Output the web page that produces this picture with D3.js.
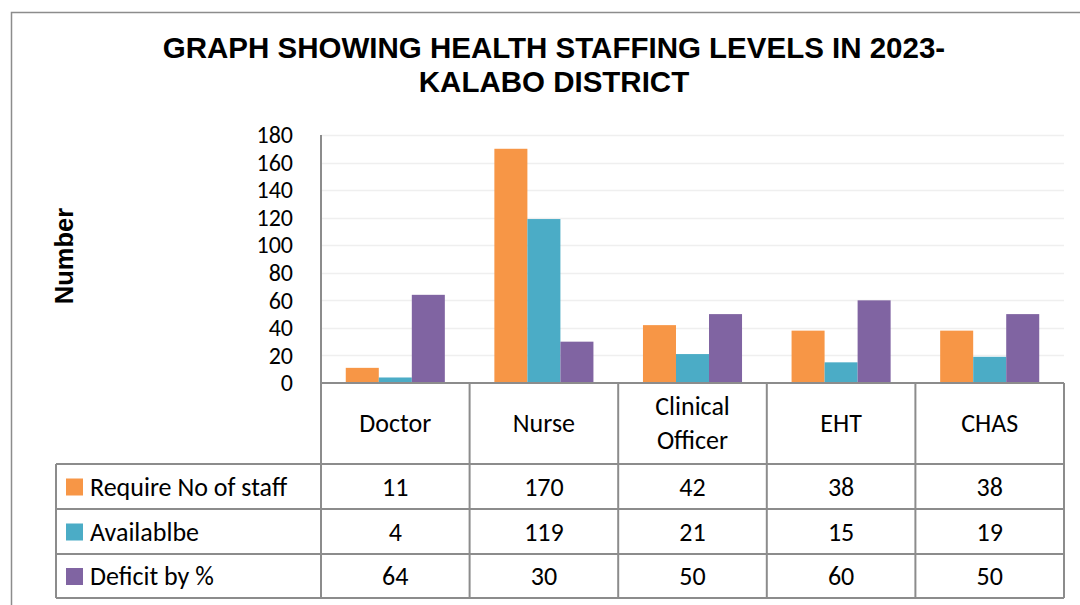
<!DOCTYPE html>
<html>
<head>
<meta charset="utf-8">
<script src="https://cdn.jsdelivr.net/npm/d3@7"></script>
<style>
  html, body { margin: 0; padding: 0; background: #fff; }
  svg { display: block; }
</style>
</head>
<body>
<svg id="chart" width="1080" height="605"></svg>
<script>
// Staffing data.
var categories = ['Doctor', 'Nurse', 'Clinical Officer', 'EHT', 'CHAS'];
var categoryLines = [['Doctor'], ['Nurse'], ['Clinical', 'Officer'], ['EHT'], ['CHAS']];
var seriesNames = ['Require No of staff', 'Availablbe', 'Deficit by %'];
var required = [11, 170, 42, 38, 38];
var available = [4, 119, 21, 15, 19];
var deficit = [64, 30, 50, 60, 50];
var yTicks = [0, 20, 40, 60, 80, 100, 120, 140, 160, 180];
var colors = ['#F79646', '#4BACC6', '#8064A2'];

var seriesValues = [required, available, deficit];

var svg = d3.select('#chart');
var font = 'Carlito, Lato, "Liberation Sans", sans-serif';
var arial = '"Liberation Sans", Arial, sans-serif';
var lineColor = '#8c8c8c';

// Plot area and table geometry.
var plotLeft = 321, plotRight = 1064;
var plotTop = 135, plotBottom = 383;
var catRowBottom = 464;
var rowEdges = [464, 509, 554, 598];
var legendLeft = 56;

// Outer chart border (runs off the bottom and right of the picture).
svg.append('path')
  .attr('d', 'M11.5,605 L11.5,12.5 L1080,12.5')
  .attr('fill', 'none')
  .attr('stroke', lineColor)
  .attr('stroke-width', 1.5);

// Title.
var title = svg.append('text')
  .attr('text-anchor', 'middle')
  .attr('font-family', arial)
  .attr('font-weight', 'bold')
  .attr('font-size', 29.5)
  .attr('fill', '#000');
title.append('tspan').attr('x', 554).attr('y', 58).text('GRAPH SHOWING HEALTH STAFFING LEVELS IN 2023-');
title.append('tspan').attr('x', 554).attr('y', 92).text('KALABO DISTRICT');

// Y axis title.
svg.append('text')
  .attr('transform', 'translate(73,256) rotate(-90)')
  .attr('text-anchor', 'middle')
  .attr('font-family', arial)
  .attr('font-weight', 'bold')
  .attr('font-size', 25.5)
  .text('Number');

// Scales.
var x0 = d3.scaleBand()
  .domain(categories)
  .range([plotLeft, plotRight])
  .padding(0);

var barW = x0.bandwidth() / 4.5;
var x1 = d3.scaleBand()
  .domain(seriesNames)
  .range([barW * 0.75, barW * 3.75])
  .padding(0);

var y = d3.scaleLinear()
  .domain([0, 180])
  .range([plotBottom, plotTop]);

// Gridlines.
svg.append('g')
  .selectAll('line')
  .data(yTicks.slice(1))
  .enter().append('line')
    .attr('x1', plotLeft)
    .attr('x2', plotRight)
    .attr('y1', function(d) { return Math.round(y(d)) + 0.5; })
    .attr('y2', function(d) { return Math.round(y(d)) + 0.5; })
    .attr('stroke', '#efefef')
    .attr('stroke-width', 1.5);

// Y axis tick labels.
var yAxis = svg.append('g')
  .attr('transform', 'translate(' + plotLeft + ',0)')
  .call(d3.axisLeft(y).tickValues(yTicks).tickSize(0).tickPadding(28));
yAxis.select('.domain').remove();
yAxis.selectAll('text')
  .attr('font-family', font)
  .attr('font-size', 24)
  .attr('fill', '#000');

// Bars.
var groups = svg.append('g')
  .selectAll('g')
  .data(categories)
  .enter().append('g')
    .attr('transform', function(d) { return 'translate(' + x0(d) + ',0)'; });

groups.selectAll('rect')
  .data(function(d, i) {
    return seriesNames.map(function(s, j) {
      return { series: s, value: seriesValues[j][i], color: colors[j] };
    });
  })
  .enter().append('rect')
    .attr('x', function(d) { return x1(d.series); })
    .attr('width', x1.bandwidth())
    .attr('y', function(d) { return y(d.value); })
    .attr('height', function(d) { return y(0) - y(d.value); })
    .attr('fill', function(d) { return d.color; });

// Data table lines.
var tbl = svg.append('g')
  .attr('stroke', lineColor)
  .attr('stroke-width', 2)
  .attr('fill', 'none');

// Vertical axis line runs through the table.
tbl.append('line')
  .attr('x1', plotLeft).attr('x2', plotLeft)
  .attr('y1', plotTop).attr('y2', rowEdges[3]);
// Category boundaries.
tbl.selectAll('.vsep')
  .data(categories)
  .enter().append('line')
    .attr('class', 'vsep')
    .attr('x1', function(d) { return x0(d) + x0.bandwidth(); })
    .attr('x2', function(d) { return x0(d) + x0.bandwidth(); })
    .attr('y1', plotBottom)
    .attr('y2', rowEdges[3]);
// Horizontal axis line and row lines.
tbl.append('line')
  .attr('x1', plotLeft).attr('x2', plotRight)
  .attr('y1', plotBottom).attr('y2', plotBottom);
tbl.selectAll('.hrow')
  .data(rowEdges)
  .enter().append('line')
    .attr('class', 'hrow')
    .attr('x1', legendLeft).attr('x2', plotRight)
    .attr('y1', function(d) { return d; })
    .attr('y2', function(d) { return d; });
tbl.append('line')
  .attr('x1', legendLeft).attr('x2', legendLeft)
  .attr('y1', rowEdges[0]).attr('y2', rowEdges[3]);

// Category labels.
var catLabels = svg.append('g')
  .selectAll('text')
  .data(categories)
  .enter().append('text')
    .attr('text-anchor', 'middle')
    .attr('font-family', font)
    .attr('font-size', 26)
    .attr('fill', '#000');
catLabels.each(function(d, i) {
  var lines = categoryLines[i];
  var cx = x0(d) + x0.bandwidth() / 2;
  var mid = (plotBottom + catRowBottom) / 2 - 1;
  var lh = 34;
  var t = d3.select(this);
  lines.forEach(function(l, k) {
    t.append('tspan')
      .attr('x', cx)
      .attr('y', mid + (k - (lines.length - 1) / 2) * lh)
      .attr('dy', '0.35em')
      .text(l);
  });
});

// Table rows: legend key, series name, values.
seriesNames.forEach(function(s, j) {
  var cy = (rowEdges[j] + rowEdges[j + 1]) / 2;
  svg.append('rect')
    .attr('x', 66).attr('y', cy - 8)
    .attr('width', 17).attr('height', 17)
    .attr('fill', colors[j]);
  svg.append('text')
    .attr('x', 90).attr('y', cy).attr('dy', '0.35em')
    .attr('font-family', font).attr('font-size', 26)
    .text(s);
  svg.append('g')
    .selectAll('text')
    .data(categories)
    .enter().append('text')
      .attr('x', function(d) { return x0(d) + x0.bandwidth() / 2; })
      .attr('y', cy).attr('dy', '0.35em')
      .attr('text-anchor', 'middle')
      .attr('font-family', font).attr('font-size', 26)
      .text(function(d, i) { return seriesValues[j][i]; });
});
</script>
</body>
</html>
